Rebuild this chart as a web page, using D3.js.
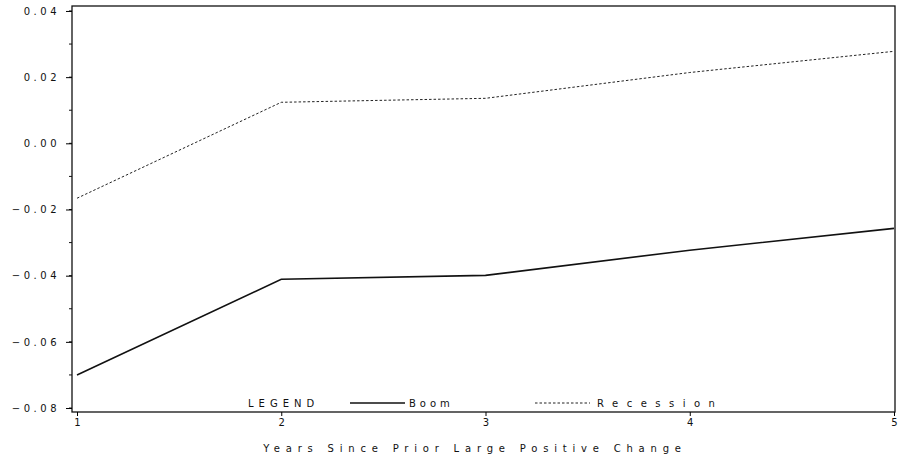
<!DOCTYPE html>
<html>
<head>
<meta charset="utf-8">
<script src="https://cdn.jsdelivr.net/npm/d3@7"></script>
<style>
  body { margin: 0; background: #fff; }
  text { font-family: "DejaVu Sans", sans-serif; fill: #111; }
</style>
</head>
<body>
<div id="chart"></div>
<script>
var years = [1, 2, 3, 4, 5];
var boom = [-0.070, -0.0411, -0.0399, -0.0323, -0.0257];
var recession = [-0.0166, 0.0124, 0.0136, 0.0214, 0.0278];
var yTicks = [-0.08, -0.06, -0.04, -0.02, 0.00, 0.02, 0.04];

var svgWidth = 899, svgHeight = 459;
var plot = { left: 72, right: 895, top: 6, bottom: 412 };

var svg = d3.select("#chart").append("svg")
  .attr("width", svgWidth)
  .attr("height", svgHeight);

var x = d3.scaleLinear().domain([1, 5]).range([77, 894]);
var y = d3.scaleLinear().domain([-0.0812, 0.0415]).range([plot.bottom, plot.top]);

// frame
svg.append("rect")
  .attr("x", plot.left).attr("y", plot.top)
  .attr("width", plot.right - plot.left).attr("height", plot.bottom - plot.top)
  .attr("fill", "none").attr("stroke", "#111").attr("stroke-width", 1.3);

// y axis with minor ticks
var minor = d3.range(-8, 5).map(d => d / 100);
svg.selectAll(".minor").data(minor).enter().append("line")
  .attr("x1", plot.left - 3).attr("x2", plot.left)
  .attr("y1", d => y(d)).attr("y2", d => y(d))
  .attr("stroke", "#111");

var yAxis = d3.axisLeft(y).tickValues(yTicks).tickSize(6)
  .tickFormat(d => d3.format(".2f")(d).replace("-", "\u2212"));
var yg = svg.append("g").attr("transform", `translate(${plot.left},0)`).call(yAxis);
yg.select(".domain").remove();
yg.selectAll("text")
  .attr("x", -12)
  .style("font-size", "10px")
  .style("letter-spacing", "3.5px");

// x axis
var xAxis = d3.axisBottom(x).tickValues(years).tickSize(4).tickFormat(d3.format("d"));
var xg = svg.append("g").attr("transform", `translate(0,${plot.bottom})`).call(xAxis);
xg.select(".domain").remove();
xg.selectAll("text").attr("y", 7).style("font-size", "10px");

svg.append("text")
  .attr("x", 475).attr("y", 452)
  .attr("text-anchor", "middle")
  .style("font-size", "10px")
  .style("letter-spacing", "5.8px")
  .text("Years Since Prior Large Positive Change");

var line = d3.line().x((d, i) => x(years[i])).y(d => y(d));

svg.append("path").datum(boom)
  .attr("d", line).attr("fill", "none")
  .attr("stroke", "#111").attr("stroke-width", 1.6);

svg.append("path").datum(recession)
  .attr("d", line).attr("fill", "none")
  .attr("stroke", "#222").attr("stroke-width", 1)
  .attr("stroke-dasharray", "2.5,2");

// legend
var ly = 403;
svg.append("text").attr("x", 248).attr("y", ly + 4)
  .style("font-size", "10px").style("letter-spacing", "5px").text("LEGEND");
svg.append("line").attr("x1", 350).attr("x2", 405).attr("y1", ly).attr("y2", ly)
  .attr("stroke", "#111").attr("stroke-width", 1.6);
svg.append("text").attr("x", 409).attr("y", ly + 4)
  .style("font-size", "10px").style("letter-spacing", "4px").text("Boom");
svg.append("line").attr("x1", 535).attr("x2", 590).attr("y1", ly).attr("y2", ly)
  .attr("stroke", "#222").attr("stroke-width", 1).attr("stroke-dasharray", "2.5,2");
svg.append("text").attr("x", 597).attr("y", ly + 4)
  .style("font-size", "10px").style("letter-spacing", "8.5px").text("Recession");
</script>
</body>
</html>
